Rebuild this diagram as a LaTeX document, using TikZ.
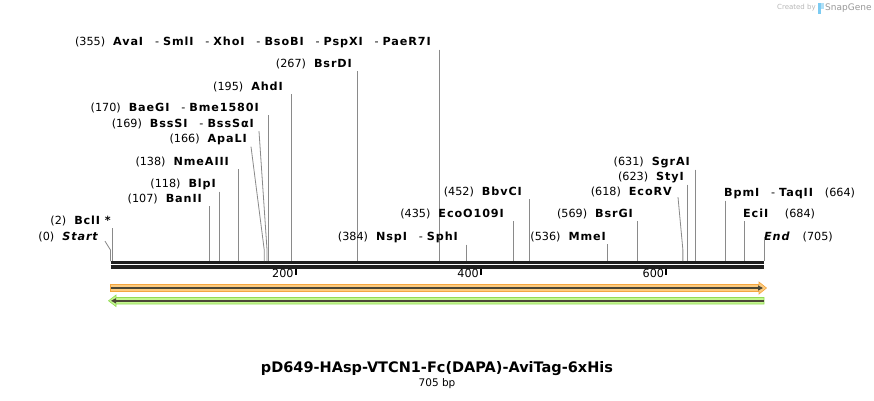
\documentclass[tikz,border=0pt]{standalone}
\usepackage{fontspec}
\setmainfont{DejaVu Sans}
\newfontfamily\enzfont{DejaVu Sans}[LetterSpace=8]
\usetikzlibrary{arrows.meta}
\definecolor{featorange}{HTML}{FDCB7F}
\definecolor{featorangeedge}{HTML}{F4A640}
\definecolor{featgreen}{HTML}{C4F690}
\definecolor{featgreenedge}{HTML}{93DC55}
\definecolor{featline}{HTML}{4A4636}
\definecolor{leadgray}{HTML}{8A8A8A}
\definecolor{logoblue}{HTML}{7CCBF2}
\newcommand{\cut}[2]{(#1)\hspace{8pt}{\enzfont\bfseries #2}}
\newcommand{\cutr}[2]{{\enzfont\bfseries #2}\hspace{12pt}(#1)}
\newcommand{\orsep}{\hspace{11pt}\textmd{\normalfont -}\hspace{4pt}}

\begin{document}
\begin{tikzpicture}[x=1pt,y=-1pt,line cap=butt,
  enz/.style={font=\fontsize{11.2}{13}\selectfont,inner xsep=0pt,inner ysep=2pt},
  leader/.style={leadgray,line width=0.8pt},
  tick/.style={black,line width=1.6pt}]
\useasboundingbox[fill=white] (0,0) rectangle (874,400);

% sequence line
\draw[line width=3.2pt,black!88] (110.5,262.3) -- (764,262.3);
\draw[line width=3.2pt,black!88] (110.5,267) -- (764,267);
\foreach \t in {200,400,600} { % ruler marks
  \coordinate (t\t) at ({110.5+\t*0.9262},268.5);
  \draw[tick] (t\t) -- ++(0,6);
  \node[enz,anchor=east] (lab\t) at ([xshift=-2pt,yshift=-5pt]t\t) {\t};
}

% sites whose leader drops straight down
\foreach \bp/\xe/\ly/\nm/\txt in {
2/111/221/BclI/BclI~*,
107/202/199/BanII/BanII,
118/216/184/BlpI/BlpI,
138/229/162/NmeAIII/NmeAIII,
170/259/108/BaeGI/BaeGI\orsep Bme1580I,
195/283/87/AhdI/AhdI,
267/352/64/BsrDI/BsrDI,
355/431/42/AvaI/AvaI\orsep SmlI\orsep XhoI\orsep BsoBI\orsep PspXI\orsep PaeR7I,
384/458/237/NspI/NspI\orsep SphI,
435/504/214/EcoO/EcoO109I,
452/522/192/BbvCI/BbvCI,
536/606/237/MmeI/MmeI,
569/633/214/BsrGI/BsrGI,
623/684/177/StyI/StyI,
631/690/162/SgrAI/SgrAI
} {
  \coordinate (s\nm) at ({110.5+\bp*0.9262},261);
  \node[enz,anchor=east] (\nm) at (\xe,\ly) {\cut{\bp}{\txt}};
  \draw[leader] (s\nm |- \nm.south) -- (s\nm);
}

% labels on the right of their line
\foreach \bp/\xw/\ly/\nm/\txt in {
664/724/193/BpmI/BpmI\orsep TaqII,
684/743/214/EciI/EciI
} {
  \coordinate (s\nm) at ({110.5+\bp*0.9262},261);
  \node[enz,anchor=west] (\nm) at (\xw,\ly) {\cutr{\bp}{\txt}};
  \draw[leader] (s\nm |- \nm.south) -- (s\nm);
}

% crowded sites, bent leaders
\coordinate (sApaLI) at ({110.5+166*0.9262},261);
\coordinate (sBssSI) at ({110.5+169*0.9262},261);
\coordinate (sEcoRV) at ({110.5+618*0.9262},261);
\node[enz,anchor=east] (ApaLI) at (247,139) {\cut{166}{ApaLI}};
\node[enz,anchor=east] (BssSI) at (254,124) {\cut{169}{BssSI\orsep BssSαI}};
\node[enz,anchor=east] (EcoRV) at (672,192) {\cut{618}{EcoRV}};
\draw[leader] ([xshift=4pt]ApaLI.south east) -- ([yshift=11pt]sApaLI) -- (sApaLI);
\draw[leader] ([xshift=5pt]BssSI.south east) -- ([yshift=11pt]sBssSI) -- (sBssSI);
\draw[leader] ([shift={(6pt,2pt)}]EcoRV.south east) -- ([yshift=11pt]sEcoRV) -- (sEcoRV);

% ends of the sequence
\coordinate (sStart) at (110.5,261);
\coordinate (sEnd) at (764,261);
\node[enz,anchor=east] (Start) at (98,237) {(0)\hspace{8pt}{\enzfont\bfseries\itshape Start}};
\node[enz,anchor=west] (End) at (764,237) {{\enzfont\bfseries\itshape End}\hspace{13pt}(705)};
\draw[leader] ([shift={(7pt,3pt)}]Start.south east) -- ([yshift=11pt]sStart) -- (sStart);
\draw[leader] (End.west) -- (sEnd);

% features
\filldraw[fill=featorange,draw=featorangeedge,line width=0.6pt] (110.5,284.5) -- (759,284.5) -- (759,282) -- (766.5,288) -- (759,294) -- (759,291.5) -- (110.5,291.5) -- cycle;
\draw[featline,line width=1.6pt,-{Triangle[length=5pt,width=5pt]}] (111,288) -- (763,288);
\filldraw[fill=featgreen,draw=featgreenedge,line width=0.6pt] (764,297.5) -- (116,297.5) -- (116,295) -- (108.5,300.8) -- (116,306.5) -- (116,304) -- (764,304) -- cycle;
\draw[featline,line width=1.6pt,-{Triangle[length=5pt,width=5pt]}] (763.5,300.8) -- (111,300.8);

% name and size
\node[font=\bfseries\fontsize{14.5}{16}\selectfont] (title) at (437,369) {pD649-HAsp-VTCN1-Fc(DAPA)-AviTag-6xHis};
\node[font=\fontsize{10.5}{12}\selectfont] (size) at (437,384) {705 bp};

% credit
\node[font=\fontsize{7}{8}\selectfont,text=black!28,anchor=west,inner sep=0pt] (made) at (777,8) {Created by};
\fill[logoblue] (818,3) rectangle (820.5,14);
\fill[logoblue!60] (820.5,3) rectangle (823.5,9);
\node[font=\fontsize{9}{10}\selectfont,text=black!40,anchor=west,inner sep=0pt] (sg) at (825,8) {SnapGene};
\end{tikzpicture}
\end{document}
